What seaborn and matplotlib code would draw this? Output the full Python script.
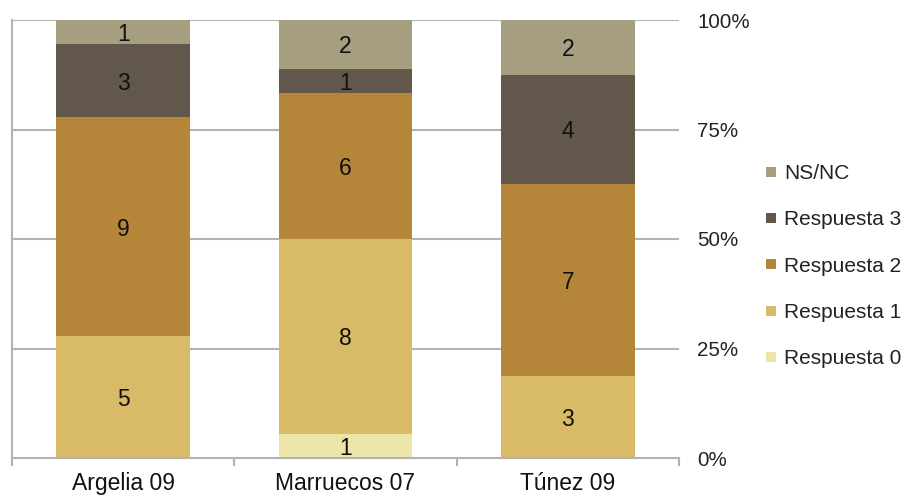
import numpy as np
import pandas as pd
import seaborn as sns
import matplotlib.pyplot as plt
from matplotlib.lines import Line2D
from matplotlib.ticker import FixedLocator, PercentFormatter

sns.set_theme(style="white")
plt.rcParams['font.family'] = ['Liberation Sans', 'DejaVu Sans']

categories = ["Argelia 09", "Marruecos 07", "Túnez 09"]
respuesta_0 = [0, 1, 0]
respuesta_1 = [5, 8, 3]
respuesta_2 = [9, 6, 7]
respuesta_3 = [3, 1, 4]
ns_nc = [1, 2, 2]

series_names = ["Respuesta 0", "Respuesta 1", "Respuesta 2", "Respuesta 3", "NS/NC"]
series_colors = ["#EBE6A8", "#D9BA66", "#B5863A", "#62574B", "#A59F7F"]

counts = np.array([respuesta_0, respuesta_1, respuesta_2, respuesta_3, ns_nc], dtype=float)
shares = counts / counts.sum(axis=0) * 100
tops = shares.cumsum(axis=0)
bottoms = tops - shares

fig = plt.figure(figsize=(9.03, 4.99), dpi=100)
ax = fig.add_axes([12 / 903, 1 - 458 / 499, (679 - 12) / 903, (458 - 20) / 499])

grid_c = "#B3B3B3"
for v in (25, 50, 75, 100):
    ax.axhline(v, color=grid_c, lw=1.5, zorder=0)

# stacked bars: draw cumulative totals from the top series down
for i in range(len(series_names) - 1, -1, -1):
    df = pd.DataFrame({"cat": categories, "top": tops[i]})
    sns.barplot(data=df, x="cat", y="top", color=series_colors[i], width=0.6,
                saturation=1, ax=ax, zorder=2, linewidth=0)

for i in range(len(series_names)):
    for j, cat in enumerate(categories):
        if counts[i, j] > 0:
            ax.text(j, (bottoms[i, j] + tops[i, j]) / 2, f"{int(counts[i, j])}",
                    ha="center", va="center_baseline", fontsize=16.5, color="#111111", zorder=3)

ax.set_xlim(-0.5, 2.5)
ax.set_ylim(0, 100)
ax.set_xlabel("")
ax.set_ylabel("")

ax.yaxis.tick_right()
ax.yaxis.set_major_locator(FixedLocator([0, 25, 50, 75, 100]))
ax.yaxis.set_major_formatter(PercentFormatter(decimals=0))
ax.tick_params(axis="y", length=0, pad=13, labelsize=14.8, labelcolor="#222222")

ax.xaxis.set_minor_locator(FixedLocator([-0.5, 0.5, 1.5, 2.5]))
ax.tick_params(axis="x", which="major", length=0, pad=10, labelsize=16.5, labelcolor="#111111")
ax.tick_params(axis="x", which="minor", bottom=True, length=6, width=1.5, color=grid_c)

for side in ("top", "right"):
    ax.spines[side].set_visible(False)
for side in ("left", "bottom"):
    ax.spines[side].set_color(grid_c)
    ax.spines[side].set_linewidth(1.5)

handles = [Line2D([], [], marker="s", linestyle="none", markersize=7.5,
                  markerfacecolor=series_colors[i], markeredgewidth=0)
           for i in range(len(series_names) - 1, -1, -1)]
labels = [series_names[i] for i in range(len(series_names) - 1, -1, -1)]
fig.legend(handles, labels, loc="upper left", bbox_to_anchor=(763 / 903, 1 - 164 / 499),
           frameon=False, fontsize=15, labelspacing=1.31, handlelength=0.8,
           handletextpad=0.2, borderaxespad=0, borderpad=0, labelcolor="#222222")

fig.savefig("out.png", dpi=100)
